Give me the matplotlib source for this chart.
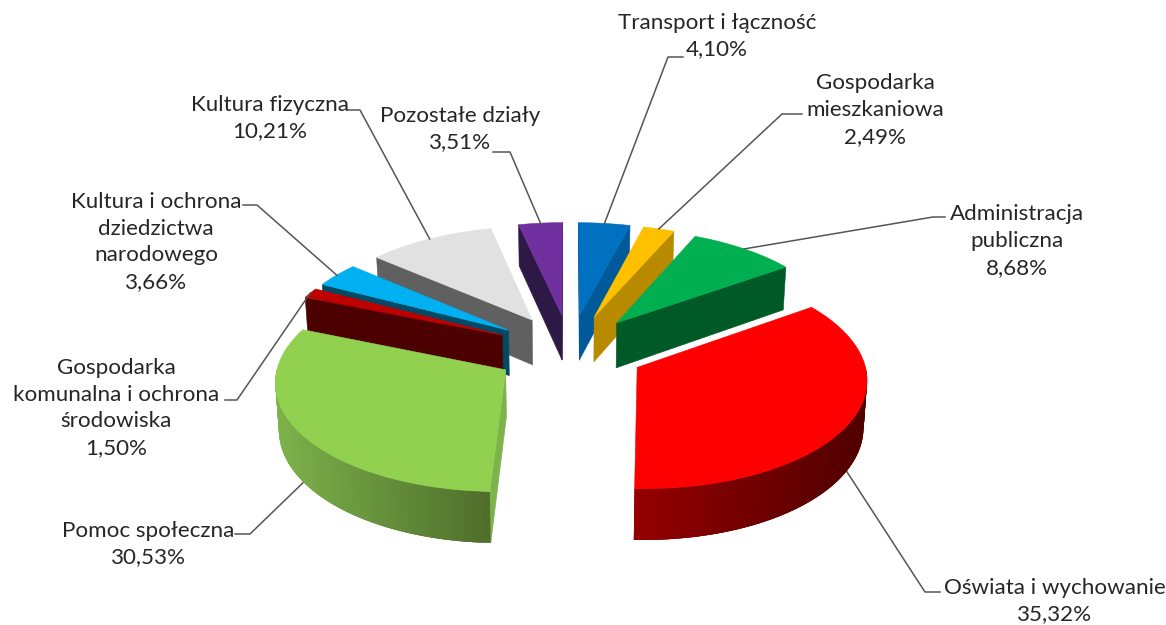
import numpy as np
import matplotlib
matplotlib.use("Agg")
import matplotlib.pyplot as plt
from matplotlib.collections import PolyCollection
from matplotlib.colors import to_rgb

# clockwise from 12 o'clock
names = ["Transport i łączność", "Gospodarka\nmieszkaniowa", "Administracja\npubliczna",
         "Oświata i wychowanie", "Pomoc społeczna", "Gospodarka\nkomunalna i ochrona\nśrodowiska",
         "Kultura i ochrona\ndziedzictwa\nnarodowego", "Kultura fizyczna", "Pozostałe działy"]
values = [4.10, 2.49, 8.68, 35.32, 30.53, 1.50, 3.66, 10.21, 3.51]

top_colors = ["#0070C0", "#FFC000", "#00B050", "#FF0000", "#92D050", "#C00000", "#00B0F0", "#E1E1E1", "#7030A0"]
cut_colors = ["#005A9A", "#B88A00", "#005A28", "#4D0000", "#7DB34B", "#4D0000", "#004A66", "#606060", "#2D1846"]
wall_left = ["#005A9A", "#B88A00", "#005A28", "#960000", "#7DB34B", "#4D0000", "#004A66", "#606060", "#2D1846"]
wall_right = ["#005A9A", "#B88A00", "#005A28", "#500000", "#4F6E2C", "#4D0000", "#004A66", "#606060", "#2D1846"]

# centre of each label, and the elbow of its leader line (line start, elbow)
label_pos = [(717, 36), (875, 110), (1017, 241), (1055, 601), (148, 544), (116, 408), (156, 242), (270, 118), (460, 129)]
leader_start = [(683, 57), (802, 114), (945, 217), (940, 592), (235, 534), (225, 400), (243, 205), (347, 110), (493, 152)]
leader_elbow = [(668, 57), (782, 114), (933, 217), (925, 592), (250, 534), (237, 400), (257, 205), (360, 110), (510, 152)]

cx, cy = 570, 350
rx, ry = 225, 107
persp = 0.09
explode = 0.335
depth = 46
taper = 0.012


def project(ang, rad, off_ang, z=0.0):
    u = explode * np.sin(off_ang) + rad * np.sin(ang)
    v = -explode * np.cos(off_ang) - rad * np.cos(ang)
    s = 1 / (1 - persp * v)
    return cx + rx * u * s * (1 - taper * z), cy + (ry * v + depth * z) * s


def cut_visible(a, mid, off):
    apex = np.array(project(0, 0, off))
    e = np.array(project(a, 1, off)) - apex
    m = np.array(project(mid, 1, off)) - apex
    n = e * (m @ e) / (e @ e) - m
    return n[1] > 0


def cut_wall(a, off):
    return [project(0, 0, off), project(a, 1, off), project(a, 1, off, 1), project(0, 0, off, 1)]


fig = plt.figure(figsize=(11.66, 6.25), dpi=100)
ax = fig.add_axes([0, 0, 1, 1])
ax.set_xlim(0, 1166)
ax.set_ylim(625, 0)
ax.axis("off")

edges = np.radians(np.concatenate([[0], np.cumsum(values)]) * 3.6)
mids = (edges[:-1] + edges[1:]) / 2

# back to front on each side of the pie
order = [0, 1, 2, 3, 8, 7, 6, 5, 4]
for z, i in enumerate(order):
    a0, a1, off = edges[i], edges[i + 1], mids[i]
    zo = 2 + z

    for a in (a0, a1):
        if cut_visible(a, off, off):
            ax.fill(*zip(*cut_wall(a, off)), color=cut_colors[i], lw=0.4, zorder=zo)

    arc = np.linspace(a0, a1, max(int(np.degrees(a1 - a0)), 4))
    front = arc[np.cos(arc) < 0.02]
    if len(front) > 1:
        quads = []
        cols = []
        x_all = [project(a, 1, off)[0] for a in front]
        lo, hi = min(x_all), max(x_all)
        for j in range(len(front) - 1):
            # strips overlap the next one so no seams show
            p, q = front[j], front[min(j + 3, len(front) - 1)]
            quads.append([project(p, 1, off), project(q, 1, off), project(q, 1, off, 1), project(p, 1, off, 1)])
            t = (project(front[j], 1, off)[0] - lo) / max(hi - lo, 1)
            cols.append(tuple((1 - t) * np.array(to_rgb(wall_left[i])) + t * np.array(to_rgb(wall_right[i]))))
        ax.add_collection(PolyCollection(quads, facecolors=cols, edgecolors="none", zorder=zo))

    top = [project(0, 0, off)] + [project(a, 1, off) for a in arc]
    ax.fill(*zip(*top), color=top_colors[i], lw=0.4, zorder=zo)

for i, name in enumerate(names):
    z = 1 if np.cos(mids[i]) < 0 else 0
    end = project(mids[i], 1, mids[i], z)
    ax.plot([leader_start[i][0], leader_elbow[i][0], end[0]],
            [leader_start[i][1], leader_elbow[i][1], end[1]],
            color="#555555", lw=1.1, zorder=1 if z else 20)
    ax.text(label_pos[i][0], label_pos[i][1], f"{name}\n{values[i]:.2f}%".replace(".", ","),
            ha="center", va="center", multialignment="center", family="Lato",
            fontsize=16.1, color="#262626", linespacing=1.42, zorder=21)

fig.savefig("out.png", dpi=100)
